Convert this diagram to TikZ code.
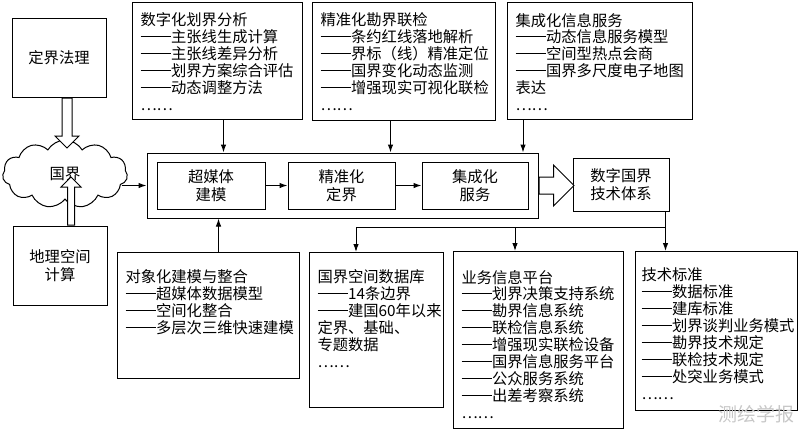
\documentclass[tikz,border=0pt]{standalone}
\usepackage{fontspec}
\setmainfont{Noto Sans CJK SC}
\usetikzlibrary{shapes.symbols,shapes.arrows,arrows.meta,calc}
\newcommand{\itemdash}{\rule[0.36em]{2em}{0.06em}}

\begin{document}
\begin{tikzpicture}[x=1pt, y=-1pt, line width=1pt,
  flowbox/.style={draw, align=center, inner sep=0pt, font=\fontsize{15.3}{18}\selectfont},
  listbox/.style={draw, anchor=north west, inner sep=0pt},
  listtext/.style={anchor=north west, align=left, inner sep=0pt, font=\fontsize{15.3}{16.9}\selectfont},
  link/.style={-{Latex[length=8pt,width=5.5pt]}},
  hollow/.style={single arrow, draw, fill=white, single arrow tip angle=90}]
\useasboundingbox (0,0) rectangle (800,432);

% left side
\node[flowbox, minimum width=94, minimum height=79] (dingjie) at (59,57.5) {定界法理};
\node[cloud, draw, cloud puffs=11, cloud puff arc=120, aspect=1.8, minimum width=125, minimum height=68, inner sep=0pt,
  font=\fontsize{15.3}{18}\selectfont] (guojie) at (65,174) {国界};
\node[flowbox, minimum width=94, minimum height=79] (dili) at (60,265.5) {地理空间\\计算};

% hollow arrows into the cloud
\node[hollow, inner sep=4.5pt, single arrow head extend=7pt, shape border rotate=270, minimum height=50, anchor=tail]
  (lawarrow) at ($(dingjie.south)+(8,0)$) {};
\node[hollow, inner sep=3pt, single arrow head extend=6.5pt, shape border rotate=90, minimum height=48, anchor=tail]
  (geoarrow) at ($(dili.north)+(11,0)$) {};

% main chain
\node[flowbox, minimum width=391, minimum height=65] (chain) at (342.5,185.5) {};
\node[flowbox, minimum width=108, minimum height=47] (chaomeiti) at (211,185.5) {超媒体\\建模};
\node[flowbox, minimum width=107, minimum height=47] (jingzhun) at (341.5,185.5) {精准化\\定界};
\node[flowbox, minimum width=106, minimum height=47] (jicheng) at (475,185.5) {集成化\\服务};
\node[flowbox, minimum width=96, minimum height=53] (tixi) at (621,184.5) {数字国界\\技术体系};
\node[hollow, inner sep=8pt, single arrow head extend=12pt, minimum height=35, anchor=tail] (bigarrow) at (chain.east) {};

% top lists
\node[listbox, minimum width=170, minimum height=117] (fenxi) at (132,2) {};
\node[listtext] (fenxi-txt) at ($(fenxi.north west)+(8,10.5)$) {数字化划界分析\\\itemdash 主张线生成计算\\\itemdash 主张线差异分析\\\itemdash 划界方案综合评估\\\itemdash 动态调整方法\\……};
\node[listbox, minimum width=183, minimum height=118] (kanjie) at (312,2) {};
\node[listtext] (kanjie-txt) at ($(kanjie.north west)+(8,10.5)$) {精准化勘界联检\\\itemdash 条约红线落地解析\\\itemdash 界标（线）精准定位\\\itemdash 国界变化动态监测\\\itemdash 增强现实可视化联检\\……};
\node[listbox, minimum width=185, minimum height=117] (fuwu) at (507,2) {};
\node[listtext] (fuwu-txt) at ($(fuwu.north west)+(8,10.5)$) {集成化信息服务\\\itemdash 动态信息服务模型\\\itemdash 空间型热点会商\\\itemdash 国界多尺度电子地图\\表达\\……};

% bottom lists
\node[listbox, minimum width=182, minimum height=126] (duixiang) at (117,252) {};
\node[listtext] (duixiang-txt) at ($(duixiang.north west)+(8,17.5)$) {对象化建模与整合\\\itemdash 超媒体数据模型\\\itemdash 空间化整合\\\itemdash 多层次三维快速建模};
\node[listbox, minimum width=134, minimum height=155] (shujuku) at (309,252) {};
\node[listtext] (shujuku-txt) at ($(shujuku.north west)+(8,17.5)$) {国界空间数据库\\\itemdash 14条边界\\\itemdash 建国60年以来\\定界、基础、\\专题数据\\……};
\node[listbox, minimum width=170, minimum height=177] (pingtai) at (453,251) {};
\node[listtext] (pingtai-txt) at ($(pingtai.north west)+(8,18.5)$) {业务信息平台\\\itemdash 划界决策支持系统\\\itemdash 勘界信息系统\\\itemdash 联检信息系统\\\itemdash 增强现实联检设备\\\itemdash 国界信息服务平台\\\itemdash 公众服务系统\\\itemdash 出差考察系统\\……};
\node[listbox, minimum width=162, minimum height=159] (biaozhun) at (635,251) {};
\node[listtext] (biaozhun-txt) at ($(biaozhun.north west)+(6,16.5)$) {技术标准\\\itemdash 数据标准\\\itemdash 建库标准\\\itemdash 划界谈判业务模式\\\itemdash 勘界技术规定\\\itemdash 联检技术规定\\\itemdash 处突业务模式\\……};

% connectors
\draw[link] ($(guojie.east |- chain.west)+(-6,0)$) -- (chain.west);
\draw[link] (chaomeiti) -- (jingzhun);
\draw[link] (jingzhun) -- (jicheng);
\draw[link] ($(fenxi.south)+(6,0)$) -- ($(fenxi.south |- chain.north)+(6,0)$);
\draw[link] ($(kanjie.south)+(-13.5,0)$) -- ($(kanjie.south |- chain.north)+(-13.5,0)$);
\draw[link] ($(fuwu.south west)+(16,0)$) -- ($(fuwu.south west |- chain.north)+(16,0)$);
\draw[link] ($(duixiang.north)+(10,0)$) -- ($(duixiang.north |- chain.south)+(10,0)$);

% distribution from the technology system
\coordinate (fork) at ($(tixi.south east)+(-4,16)$);
\draw[link] ($(tixi.south east)+(-4,0)$) -- ($(tixi.south east |- biaozhun.north)+(-4,0)$);
\draw[link] (fork) -| ($(shujuku.north west)+(47,0)$);
\draw[link] ($(fork -| pingtai.north west)+(62,0)$) -- ($(pingtai.north west)+(62,0)$);

% watermark
\node[text=black!22, font=\fontsize{19}{19}\selectfont] (mark) at (756,414) {测绘学报};
\end{tikzpicture}
\end{document}
